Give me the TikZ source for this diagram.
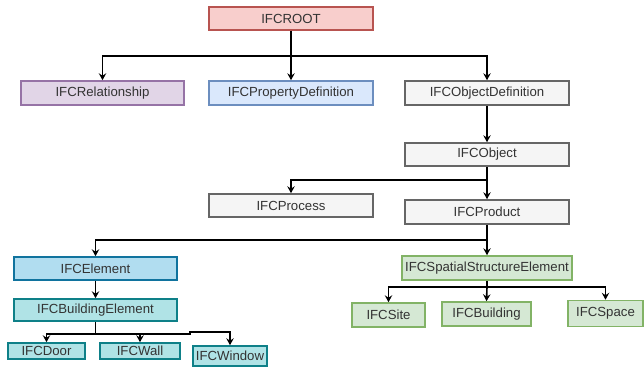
\documentclass[tikz,border=0pt]{standalone}
\usepackage{fontspec}
\setmainfont{Liberation Sans}
\usetikzlibrary{arrows.meta}
\definecolor{rootF}{HTML}{F8CECC}\definecolor{rootD}{HTML}{B85450}
\definecolor{relF}{HTML}{E1D5E7}\definecolor{relD}{HTML}{9673A6}
\definecolor{propF}{HTML}{DAE8FC}\definecolor{propD}{HTML}{6C8EBF}
\definecolor{greyF}{HTML}{F5F5F5}\definecolor{greyD}{HTML}{666666}
\definecolor{elemF}{HTML}{B1DDF0}\definecolor{elemD}{HTML}{10739E}
\definecolor{tealF}{HTML}{B0E3E6}\definecolor{tealD}{HTML}{0E8088}
\definecolor{greenF}{HTML}{D5E8D4}\definecolor{greenD}{HTML}{82B366}
\definecolor{txt}{HTML}{333333}
\tikzset{
  box/.style={draw, line width=1.6pt, inner sep=0pt, text=txt,
    font=\fontsize{13.2}{15}\selectfont, anchor=center},
  rootbox/.style={box, fill=rootF, draw=rootD},
  relbox/.style={box, fill=relF, draw=relD},
  propbox/.style={box, fill=propF, draw=propD},
  greybox/.style={box, fill=greyF, draw=greyD},
  elembox/.style={box, fill=elemF, draw=elemD},
  tealbox/.style={box, fill=tealF, draw=tealD},
  greenbox/.style={box, fill=greenF, draw=greenD},
  arr/.style={draw, line width=1.6pt, -{Stealth[length=7pt,width=7.5pt,inset=2.5pt]}},
  sz/.style 2 args={minimum width=#1pt, minimum height=#2pt}
}
\begin{document}
\begin{tikzpicture}[x=1pt,y=-1pt]
\useasboundingbox (0,0) rectangle (644,368);
\node[rootbox, sz={164}{23}] (root) at (291,18.5) {IFCROOT};
\node[relbox, sz={163}{24}] (rel) at (102.5,93) {IFCRelationship};
\node[propbox, sz={164}{24}] (prop) at (291,93) {IFCPropertyDefinition};
\node[greybox, sz={164}{24}] (objdef) at (487,93) {IFCObjectDefinition};
\node[greybox, sz={164}{23}] (obj) at (487,154.5) {IFCObject};
\node[greybox, sz={164}{23}] (proc) at (291,205.5) {IFCProcess};
\node[greybox, sz={164}{24}] (prod) at (487,212) {IFCProduct};
\node[elembox, sz={163}{23}] (elem) at (95.5,268.5) {IFCElement};
\node[greenbox, sz={170}{24}] (sse) at (487,268) {IFCSpatialStructureElement};
\node[tealbox, sz={163}{22}] (belem) at (95.5,310) {IFCBuildingElement};
\node[tealbox, sz={77}{16}] (door) at (46.5,351) {IFCDoor};
\node[tealbox, sz={80}{16}] (wall) at (140,351) {IFCWall};
\node[tealbox, sz={74}{20}] (window) at (230,356) {IFCWindow};
\node[greenbox, sz={73}{24}] (site) at (388.5,315) {IFCSite};
\node[greenbox, sz={89}{24}] (building) at (486.5,314) {IFCBuilding};
\node[greenbox, sz={75}{26}] (space) at (605.5,313.5) {IFCSpace};
% connectors
\coordinate (b1) at (291,56);
\coordinate (b2) at (487,180);
\coordinate (b3) at (487,240);
\coordinate (b4) at (95.5,334);
\coordinate (b4j) at (190,334);
\coordinate (b4k) at (190,332);
\coordinate (b5) at (487,287);
\draw[arr] (root.south) -- (b1) -| (rel.north);
\draw[arr] (root.south) -- (prop.north);
\draw[arr] (b1) -| (objdef.north);
\draw[arr] (objdef.south) -- (obj.north);
\draw[arr] (obj.south) -- (b2) -| (proc.north);
\draw[arr] (b2) -- (prod.north);
\draw[arr] (prod.south) -- (b3) -| (elem.north);
\draw[arr] (b3) -- (sse.north);
\draw[arr] (elem.south) -- (belem.north);
\draw[arr] (belem.south) -- (b4) -| (door.north);
\draw[arr] (b4) -| (wall.north);
\draw[arr] (b4) -- (b4j) -- (b4k) -| (window.north);
\draw[arr] (sse.south) -- (b5) -| (site.north);
\draw[arr] (b5) -- (building.north);
\draw[arr] (b5) -| (space.north);
\end{tikzpicture}
\end{document}
